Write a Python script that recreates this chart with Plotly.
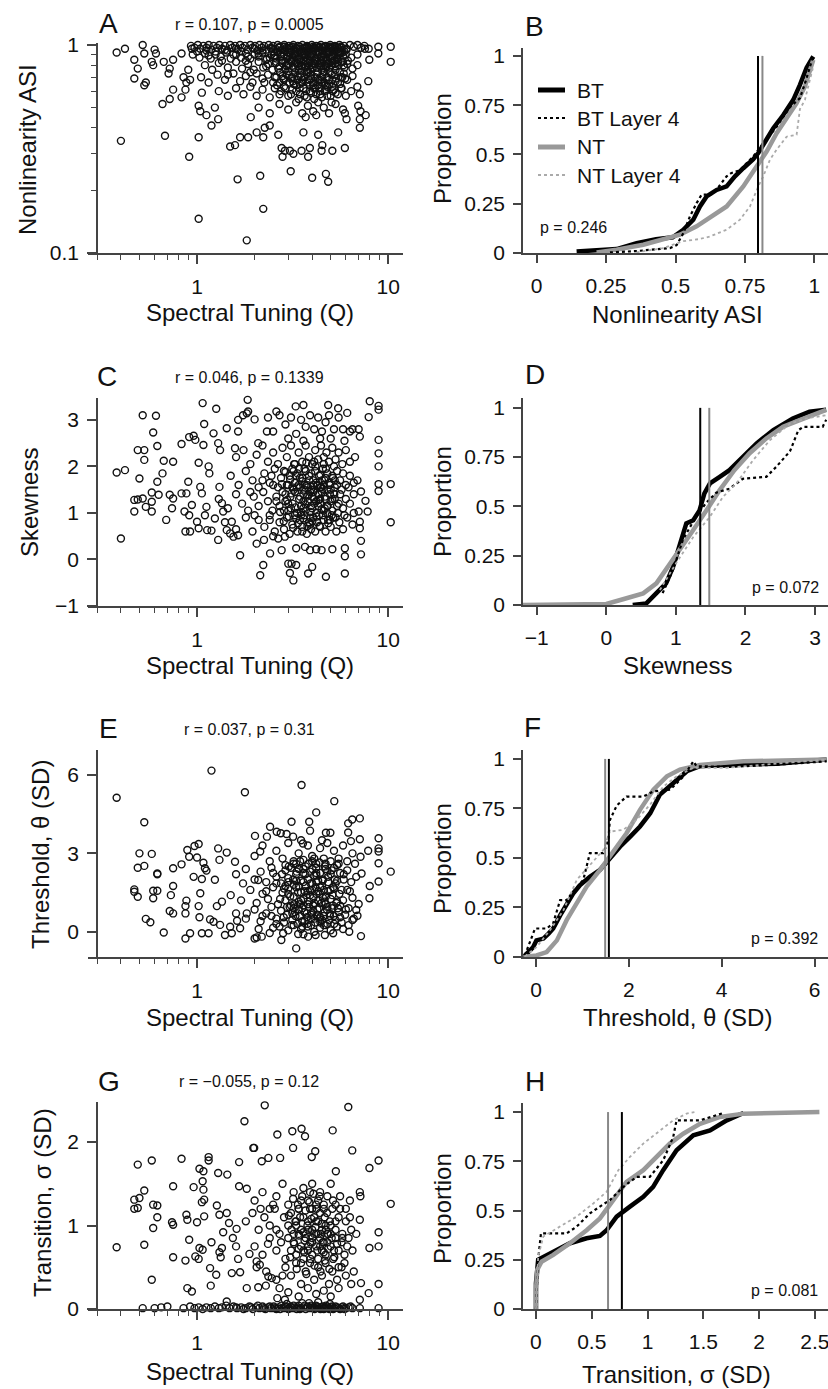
import plotly.graph_objects as go

W, H = 828, 1389
def px(x): return x / W
def py(y): return 1 - y / H

FONT = "Liberation Sans, Arial, Helvetica, sans-serif"
AXC = '#444'
TXT = '#111'

# ---------------- Scatter data (Q, value) ----------------
A_SPARSE = [(0.38,0.92),(0.42,0.96),(0.40,0.346),(0.47,0.85),(0.47,0.69),(0.49,0.77),(0.52,1.0),(0.53,0.91),(0.53,0.64),(0.54,0.66),(0.60,0.95),(0.61,0.91),(0.58,0.83),(0.59,0.80),(0.67,0.83),(0.75,0.85),(0.72,0.77),(0.71,0.73),(0.75,0.61),(0.72,0.55),(0.66,0.52),(0.68,0.366),(0.83,0.56),(0.87,0.61),(0.83,0.91),(0.85,0.70),(0.88,0.66),(0.91,0.29),(0.90,0.76),(0.92,0.68),(0.94,0.96),(1.02,0.51),(1.04,0.48),(1.02,0.36),(1.02,0.146),(1.06,0.59),(1.12,0.46),(1.19,0.41),(1.24,0.50),(1.29,0.44),(1.49,0.325),(1.58,0.33),(1.63,0.226),(1.68,0.36),(1.82,0.115),(1.85,0.36),(1.91,0.45),(2.05,0.38),(2.14,0.235),(2.22,0.36),(2.22,0.163),(2.26,0.40),(2.40,0.41),(2.66,0.37),(2.77,0.32),(2.80,0.29),(2.88,0.31),(3.06,0.31),(3.09,0.247),(3.19,0.30),(3.52,0.31),(3.60,0.38),(3.81,0.29),(3.89,0.32),(4.00,0.23),(4.30,0.37),(4.48,0.31),(4.52,0.33),(4.72,0.24),(4.85,0.22),(5.10,0.31),(5.47,0.38),(5.93,0.32),(5.93,0.47),(6.05,0.44),(6.96,0.51),(7.10,0.40),(7.10,0.44),(7.16,0.48),(7.62,0.46),(7.10,0.58),(6.89,0.63),(7.86,0.67),(7.96,0.85),(8.87,0.98),(8.87,0.91),(10.3,0.98),(10.3,0.83),(7.55,0.96)]
A_DENSE = [(0.93,0.99),(0.97,0.97),(1.01,1.0),(1.04,0.96),(1.08,0.99),(1.12,0.97),(1.15,1.0),(1.19,0.95),(1.22,0.99),(1.27,0.97),(1.31,1.0),(1.35,0.96),(1.4,0.99),(1.44,0.94),(1.49,1.0),(1.53,0.97),(1.58,0.99),(1.63,0.95),(1.68,1.0),(1.73,0.97),(1.78,0.99),(1.84,0.95),(1.9,1.0),(1.95,0.97),(2.01,0.99),(2.07,0.94),(2.12,1.0),(2.18,0.97),(2.24,0.99),(2.3,0.95),(2.37,1.0),(2.43,0.97),(2.5,0.99),(2.57,0.96),(2.64,1.0),(2.71,0.98),(2.78,0.95),(2.86,1.0),(2.94,0.97),(3.02,0.99),(3.1,0.95),(3.19,1.0),(3.28,0.97),(3.37,0.99),(3.46,0.95),(3.56,1.0),(3.66,0.97),(3.76,0.99),(3.87,0.95),(3.98,1.0),(4.09,0.97),(4.2,0.99),(4.32,0.95),(4.44,1.0),(4.57,0.97),(4.7,0.99),(4.83,0.95),(4.97,1.0),(5.11,0.97),(5.25,0.99),(5.4,0.95),(5.55,1.0),(5.71,0.97),(5.87,0.99),(6.04,0.96),(6.3,1.0),(6.6,0.98),(6.9,1.0),(7.2,0.97),(7.5,0.99),(7.9,0.96),
(0.95,0.9),(1.03,0.87),(1.1,0.91),(1.18,0.86),(1.25,0.9),(1.33,0.88),(1.42,0.92),(1.5,0.86),(1.6,0.9),(1.7,0.87),(1.8,0.91),(1.9,0.86),(2.0,0.9),(2.1,0.88),(2.2,0.92),(2.32,0.86),(2.45,0.9),(2.55,0.87),(2.65,0.92),(2.75,0.88),(2.85,0.9),(2.95,0.86),(3.05,0.92),(3.15,0.88),(3.25,0.9),(3.35,0.86),(3.45,0.92),(3.55,0.88),(3.65,0.9),(3.75,0.86),(3.85,0.92),(3.95,0.88),(4.05,0.9),(4.15,0.86),(4.3,0.92),(4.45,0.88),(4.6,0.9),(4.75,0.86),(4.9,0.92),(5.05,0.88),(5.2,0.9),(5.4,0.86),(5.6,0.91),(5.8,0.88),(6.0,0.9),(6.4,0.87),(6.9,0.9),
(1.1,0.8),(1.2,0.76),(1.3,0.82),(1.45,0.78),(1.6,0.83),(1.72,0.77),(1.85,0.81),(1.98,0.76),(2.1,0.83),(2.22,0.78),(2.35,0.81),(2.48,0.76),(2.6,0.83),(2.7,0.79),(2.8,0.82),(2.9,0.76),(3.0,0.8),(3.1,0.84),(3.2,0.78),(3.3,0.82),(3.4,0.76),(3.5,0.8),(3.6,0.84),(3.7,0.78),(3.8,0.82),(3.9,0.76),(4.0,0.8),(4.12,0.84),(4.25,0.78),(4.38,0.82),(4.5,0.76),(4.65,0.8),(4.8,0.84),(4.95,0.78),(5.1,0.82),(5.3,0.76),(5.5,0.8),(5.7,0.83),(5.9,0.78),(6.1,0.81),(6.5,0.77),(6.9,0.8),
(1.05,0.7),(1.15,0.66),(1.28,0.72),(1.4,0.68),(1.55,0.73),(1.68,0.67),(1.8,0.71),(1.95,0.66),(2.05,0.73),(2.2,0.69),(2.35,0.72),(2.5,0.66),(2.6,0.7),(2.72,0.74),(2.85,0.68),(2.95,0.72),(3.05,0.66),(3.15,0.7),(3.25,0.74),(3.35,0.68),(3.45,0.72),(3.55,0.66),(3.65,0.7),(3.75,0.74),(3.85,0.68),(3.95,0.72),(4.05,0.66),(4.15,0.7),(4.28,0.74),(4.4,0.68),(4.52,0.72),(4.65,0.66),(4.8,0.7),(4.95,0.74),(5.1,0.68),(5.25,0.72),(5.45,0.66),(5.65,0.7),(5.85,0.73),(6.1,0.68),(6.5,0.71),
(1.3,0.6),(1.45,0.57),(1.6,0.62),(1.75,0.58),(1.9,0.63),(2.05,0.57),(2.2,0.61),(2.4,0.56),(2.55,0.62),(2.7,0.58),(2.85,0.63),(3.0,0.57),(3.15,0.61),(3.3,0.64),(3.45,0.58),(3.6,0.62),(3.75,0.56),(3.9,0.6),(4.05,0.64),(4.2,0.58),(4.35,0.62),(4.5,0.56),(4.65,0.6),(4.8,0.63),(5.0,0.57),(5.2,0.61),(5.45,0.58),(5.7,0.62),(6.0,0.57),(6.4,0.6),
(2.1,0.5),(2.4,0.47),(2.7,0.52),(3.0,0.49),(3.3,0.53),(3.55,0.47),(3.8,0.51),(4.05,0.48),(4.3,0.53),(4.6,0.5),(4.9,0.47),(5.3,0.52),(5.8,0.49),(3.7,0.45),(4.2,0.46),
(2.62,0.93),(2.9,0.83),(3.13,0.93),(3.38,0.79),(3.62,0.93),(3.82,0.74),(4.02,0.93),(4.25,0.83),(4.5,0.94),(4.72,0.79),(4.95,0.93),(5.2,0.84),(5.5,0.93),(2.8,0.71),(3.2,0.65),(3.5,0.7),(3.9,0.64),(4.3,0.68),(4.7,0.64),(5.1,0.63),(5.6,0.65),(2.75,0.6),(3.4,0.55),(4.1,0.55),(4.4,0.58),(5.05,0.53),(2.4,0.87),(3.0,0.75),(3.7,0.83),(4.55,0.85),(5.3,0.79),(5.8,0.83)]
A_CORE = [(2.45,0.96),(2.53,0.89),(2.58,0.82),(2.66,0.77),(2.68,0.97),(2.74,0.9),(2.77,0.84),(2.82,0.69),(2.88,0.95),(2.92,0.8),(2.98,0.88),(3.03,0.72),(3.07,0.97),(3.12,0.83),(3.17,0.67),(3.22,0.91),(3.27,0.77),(3.32,0.96),(3.36,0.71),(3.41,0.85),(3.44,0.62),(3.49,0.93),(3.53,0.79),(3.58,0.68),(3.63,0.96),(3.68,0.87),(3.72,0.6),(3.78,0.76),(3.83,0.97),(3.88,0.84),(3.93,0.69),(3.97,0.91),(4.02,0.78),(4.08,0.62),(4.13,0.96),(4.18,0.86),(4.23,0.72),(4.28,0.64),(4.34,0.93),(4.4,0.8),(4.46,0.66),(4.52,0.97),(4.58,0.87),(4.63,0.74),(4.69,0.61),(4.75,0.93),(4.81,0.81),(4.88,0.68),(4.94,0.96),(5.0,0.86),(5.06,0.72),(5.13,0.6),(5.2,0.94),(5.27,0.81),(5.34,0.69),(5.42,0.97),(5.5,0.87),(5.58,0.74),(5.66,0.62),(5.75,0.92),(5.84,0.8),(5.95,0.69),(6.05,0.95),(6.15,0.84),(2.55,0.7),(2.62,0.64),(2.9,0.62),(3.1,0.58),(3.3,0.6),(3.65,0.57),(3.95,0.59),(4.4,0.6),(4.8,0.57),(5.3,0.59),(2.2,0.94),(2.3,0.85),(2.0,0.96),(1.85,0.88),(1.7,0.93),(1.55,0.9),(1.4,0.95),(1.25,0.93),(1.12,0.94),(1.0,0.93),
(2.85,0.98),(3.15,0.98),(3.45,0.98),(3.75,0.98),(4.05,0.98),(4.35,0.98),(4.65,0.98),(4.95,0.98),(5.3,0.98),(5.65,0.98),(3.0,0.92),(3.3,0.89),(3.6,0.91),(3.9,0.89),(4.2,0.92),(4.5,0.89),(4.8,0.91),(5.1,0.89),(5.45,0.91),(3.05,0.85),(3.35,0.81),(3.7,0.8),(4.1,0.82),(4.45,0.79),(4.85,0.82),(5.25,0.85)]
A_EXTRA = [(2.5,0.93),(2.75,0.92),(3.0,0.96),(3.25,0.94),(3.5,0.96),(3.75,0.93),(4.0,0.95),(4.25,0.97),(4.55,0.92),(4.85,0.97),(5.15,0.93),(5.5,0.96),(5.9,0.93),(2.6,0.86),(2.95,0.79),(3.2,0.86),(3.5,0.83),(3.85,0.79),(4.15,0.81),(4.45,0.84),(4.75,0.78),(5.05,0.8),(5.45,0.83),(2.7,0.66),(3.1,0.69),(3.45,0.65),(3.8,0.66),(4.15,0.62),(4.5,0.7),(4.9,0.65),(5.3,0.67),(5.75,0.7),(1.15,0.89),(1.35,0.84),(1.6,0.96),(1.8,0.84),(2.1,0.91),(2.3,0.79),(1.45,0.72),(1.9,0.74),(2.25,0.66)]

C_SPARSE = [(0.38,1.87),(0.42,1.92),(0.40,0.45),(0.47,1.03),(0.47,1.28),(0.49,1.29),(0.49,2.35),(0.52,3.1),(0.53,2.35),(0.53,2.14),(0.50,1.74),(0.52,1.31),(0.54,1.13),(0.58,1.24),(0.58,1.44),(0.58,1.03),(0.59,2.73),(0.61,3.09),(0.62,1.67),(0.62,2.44),(0.63,1.39),(0.66,1.85),(0.67,2.12),(0.69,0.85),(0.72,1.39),(0.74,1.10),(0.75,2.1),(0.75,1.31),(0.83,2.48),(0.83,1.42),(0.86,1.03),(0.87,0.6),(0.88,1.42),(0.90,1.67),(0.91,2.63),(0.91,0.95),(0.92,0.60),(0.94,1.17),(0.96,2.66),(0.98,2.57),(1.0,0.81),(1.02,2.08),(1.02,0.67),(1.04,1.56),(1.06,1.42),(1.07,3.36),(1.08,2.46),(1.09,2.91),(1.10,0.95),(1.12,1.13),(1.13,0.63),(1.15,2.0),(1.16,1.85),(1.19,0.62),(1.22,2.71),(1.24,0.88),(1.26,3.24),(1.29,0.42),(1.29,2.5),(1.31,1.56),(1.32,2.35),(1.35,1.21),(1.37,1.03),(1.43,2.82),(1.43,0.63),(1.49,0.56),(1.52,0.81),(1.55,0.49),(1.58,2.39),(1.64,2.75),(1.64,0.52),(1.68,0.09),(1.64,3.0),(1.74,3.1),(1.82,3.14),(1.84,3.43),(1.85,3.18),(2.0,3.01),(2.05,0.34),(2.09,2.5),(2.14,-0.34),(2.22,-0.12),(2.24,0.42),(2.32,2.75),(2.41,0.13),(2.5,0.5),(2.6,3.18),(2.66,0.45),(2.77,0.2),(2.88,0.49),(3.0,-0.09),(3.06,-0.29),(3.12,-0.09),(3.19,-0.45),(3.28,3.29),(3.30,-0.12),(3.30,0.24),(3.6,3.32),(3.67,0.27),(3.81,-0.3),(3.9,0.2),(4.0,-0.16),(4.2,0.22),(4.48,0.2),(4.72,-0.37),(4.85,3.32),(5.1,0.22),(5.93,-0.3),(5.93,0.24),(5.93,0.07),(5.47,3.25),(7.1,2.64),(7.0,2.8),(7.2,0.11),(7.2,0.4),(7.1,0.67),(7.8,1.03),(7.6,1.26),(7.9,3.06),(8.0,3.4),(8.9,3.3),(8.9,3.22),(8.9,2.57),(8.9,2.28),(8.9,2.0),(8.9,1.62),(8.9,1.47),(10.3,1.62),(10.3,0.8),(7.0,1.03),(7.1,0.81),(7.2,1.46)]
C_DENSE = [(2.5,2.75),(2.7,3.1),(2.9,2.9),(3.1,3.05),(3.3,2.7),(3.5,3.0),(3.7,2.85),(3.9,3.1),(4.1,2.8),(4.3,3.05),(4.5,2.75),(4.7,2.95),(4.9,3.1),(5.2,2.8),(5.5,3.05),(5.8,2.8),(6.1,3.15),(6.5,2.8),(2.35,3.05),(3.0,2.6),(3.6,2.55),(4.4,2.6),(5.0,2.6),(5.9,2.55),(6.3,2.75),
(1.6,2.2),(1.75,2.35),(1.9,2.05),(2.05,2.25),(2.2,2.45),(2.35,2.1),(2.5,2.3),(2.65,2.05),(2.8,2.4),(2.95,2.2),(3.1,2.45),(3.25,2.05),(3.4,2.3),(3.55,2.1),(3.7,2.45),(3.85,2.2),(4.0,2.05),(4.15,2.35),(4.3,2.15),(4.45,2.45),(4.6,2.05),(4.75,2.3),(4.9,2.1),(5.1,2.4),(5.3,2.15),(5.5,2.3),(5.75,2.05),(6.0,2.35),(6.3,2.1),(6.7,2.2),
(1.5,1.8),(1.65,1.6),(1.8,1.9),(1.95,1.7),(2.1,1.55),(2.25,1.85),(2.4,1.65),(2.55,1.95),(2.65,1.55),(2.75,1.75),(2.85,1.9),(2.95,1.6),(3.05,1.8),(3.15,1.95),(3.25,1.65),(3.35,1.85),(3.45,1.55),(3.55,1.75),(3.65,1.95),(3.75,1.6),(3.85,1.8),(3.95,1.5),(4.05,1.7),(4.15,1.9),(4.25,1.6),(4.35,1.8),(4.45,1.55),(4.55,1.95),(4.65,1.7),(4.8,1.85),(4.95,1.6),(5.1,1.8),(5.25,1.55),(5.4,1.9),(5.6,1.7),(5.8,1.85),(6.0,1.6),(6.3,1.8),(6.6,1.65),
(1.3,1.3),(1.45,1.1),(1.6,1.4),(1.72,1.2),(1.85,1.05),(1.98,1.35),(2.1,1.15),(2.22,1.45),(2.35,1.25),(2.48,1.05),(2.6,1.35),(2.7,1.15),(2.8,1.45),(2.9,1.25),(3.0,1.05),(3.08,1.35),(3.16,1.2),(3.25,1.45),(3.33,1.0),(3.42,1.3),(3.5,1.15),(3.6,1.4),(3.7,1.05),(3.8,1.25),(3.9,1.45),(4.0,1.1),(4.1,1.3),(4.2,1.0),(4.3,1.4),(4.4,1.2),(4.5,1.45),(4.6,1.05),(4.7,1.3),(4.82,1.15),(4.95,1.4),(5.1,1.05),(5.25,1.3),(5.4,1.15),(5.6,1.4),(5.8,1.1),(6.0,1.3),(6.3,1.2),(6.6,1.4),
(1.4,0.8),(1.6,0.65),(1.8,0.9),(1.95,0.6),(2.1,0.85),(2.25,0.7),(2.4,0.95),(2.55,0.6),(2.7,0.8),(2.85,0.65),(2.95,0.9),(3.05,0.55),(3.15,0.75),(3.25,0.95),(3.35,0.6),(3.45,0.85),(3.55,0.7),(3.65,0.95),(3.75,0.55),(3.85,0.8),(3.95,0.65),(4.05,0.9),(4.15,0.6),(4.25,0.8),(4.4,0.7),(4.55,0.95),(4.7,0.6),(4.85,0.85),(5.0,0.7),(5.15,0.9),(5.35,0.6),(5.55,0.8),(5.8,0.65),(6.1,0.9),(6.5,0.75),
(3.0,1.6),(3.2,1.5),(3.4,1.6),(3.6,1.25),(3.8,1.55),(4.0,1.35),(4.2,1.65),(4.4,1.3),(4.6,1.6),(4.8,1.0),(3.1,1.1),(3.5,0.95),(3.9,0.9),(4.3,1.15),(4.7,1.75),(5.0,1.5),(2.9,1.4),(3.3,1.8),(3.7,1.9),(4.1,1.5)]
C_CORE = [(2.72,1.02),(2.78,1.62),(2.84,0.82),(2.9,1.88),(2.96,1.28),(3.02,0.92),(3.07,1.72),(3.12,1.42),(3.18,0.68),(3.22,2.05),(3.27,1.12),(3.32,1.55),(3.37,0.78),(3.41,1.95),(3.46,1.35),(3.5,1.02),(3.55,1.68),(3.6,0.88),(3.64,1.5),(3.69,1.18),(3.73,2.08),(3.78,0.72),(3.82,1.38),(3.87,1.7),(3.92,1.02),(3.96,1.85),(4.01,0.82),(4.06,1.45),(4.11,1.2),(4.16,2.0),(4.21,0.92),(4.26,1.58),(4.31,1.28),(4.37,0.72),(4.42,1.82),(4.48,1.08),(4.54,1.52),(4.6,0.85),(4.66,1.35),(4.72,1.95),(4.78,1.15),(4.85,0.78),(4.92,1.65),(4.99,1.25),(5.06,0.95),(5.14,1.75),(5.22,1.4),(5.3,0.9),(5.4,1.6),(5.5,1.2),(2.5,1.6),(2.4,0.85),(2.2,1.7),(2.0,0.95),(1.9,1.45),(5.7,1.5),(5.9,0.95),(6.2,1.55),(6.6,1.0),(6.9,1.7)]
C_EXTRA = [(3.0,1.2),(3.15,1.55),(3.3,0.88),(3.45,1.75),(3.6,1.1),(3.75,1.35),(3.9,0.75),(4.05,1.6),(4.2,1.25),(4.35,0.95),(4.5,1.7),(4.65,1.1),(4.8,1.5),(4.95,0.85),(5.1,1.3),(5.25,1.7),(5.45,1.0),(2.85,1.05),(3.2,1.9),(3.55,0.6),(4.1,2.1),(4.6,2.2),(5.2,2.0),(2.6,1.25),(2.45,1.8),(3.95,1.15),(4.4,1.55),(3.65,1.6)]

E_SPARSE = [(0.38,5.13),(0.53,4.19),(0.50,3.0),(0.49,2.45),(0.53,2.52),(0.47,1.62),(0.47,1.53),(0.49,1.34),(0.58,2.98),(0.62,2.23),(0.62,2.2),(0.59,1.28),(0.59,1.57),(0.62,1.57),(0.54,0.49),(0.57,0.36),(0.67,-0.03),(0.72,0.79),(0.75,0.7),(0.73,1.4),(0.75,1.75),(0.75,2.43),(0.83,2.58),(0.87,0.98),(0.88,1.19),(0.87,0.7),(0.87,-0.26),(0.92,-0.06),(0.89,3.13),(0.91,2.87),(0.96,2.1),(0.97,3.28),(1.02,3.36),(1.0,2.84),(1.02,0.98),(1.03,0.55),(1.04,1.47),(1.06,-0.06),(1.06,2.02),(1.08,2.64),(1.1,2.43),(1.12,2.34),(1.15,-0.06),(1.17,0.47),(1.19,6.17),(1.22,0.38),(1.24,1.99),(1.27,0.98),(1.29,3.19),(1.31,2.75),(1.32,0.26),(1.35,1.15),(1.4,-0.13),(1.43,3.03),(1.49,0.19),(1.52,-0.06),(1.58,2.68),(1.62,0.42),(1.68,0.13),(1.74,1.85),(1.78,5.34),(1.82,0.7),(2.0,-0.26),(2.01,3.67),(2.05,-0.22),(2.09,1.98),(2.14,3.07),(2.18,-0.19),(2.32,3.64),(2.41,4.02),(2.61,3.83),(2.74,3.77),(2.76,-0.32),(2.82,-0.06),(2.94,3.74),(3.12,4.21),(3.18,3.64),(3.30,-0.64),(3.38,-0.09),(3.52,5.62),(3.58,3.38),(3.81,-0.19),(3.86,4.21),(3.9,3.87),(4.2,4.57),(4.17,-0.13),(4.66,-0.13),(4.72,3.79),(4.98,3.79),(5.22,5.0),(5.15,-0.06),(6.17,4.15),(6.48,4.3),(7.1,4.34),(6.17,3.8),(6.38,3.47),(7.2,-0.17),(7.1,3.54),(7.16,2.87),(7.25,2.23),(7.85,3.1),(8.0,1.75),(7.97,1.28),(8.9,3.58),(8.9,3.19),(8.9,3.07),(8.9,2.62),(8.9,1.92),(10.3,2.3),(6.8,0.83),(7.0,1.06),(6.9,0.61),(6.5,0.45),(6.25,0.0)]
E_DENSE = [(2.0,2.9),(2.2,3.3),(2.4,2.7),(2.6,3.1),(2.8,2.8),(3.0,3.4),(3.2,2.6),(3.4,3.0),(3.6,2.75),(3.8,3.3),(4.0,2.9),(4.2,2.6),(4.4,3.2),(4.6,2.8),(4.8,3.4),(5.0,2.7),(5.2,3.1),(5.5,2.8),(5.8,3.3),(6.1,2.7),(6.5,3.0),(2.9,2.55),(3.5,3.5),(4.5,3.5),(5.4,2.55),
(1.6,2.2),(1.8,2.4),(2.0,2.0),(2.15,2.3),(2.3,1.9),(2.45,2.45),(2.6,2.1),(2.75,1.85),(2.9,2.35),(3.0,2.05),(3.1,2.45),(3.2,1.8),(3.3,2.2),(3.4,2.4),(3.5,1.95),(3.6,2.25),(3.7,2.5),(3.8,2.0),(3.9,2.3),(4.0,1.85),(4.1,2.15),(4.2,2.45),(4.3,1.95),(4.4,2.25),(4.55,2.0),(4.7,2.4),(4.85,1.9),(5.0,2.2),(5.2,2.45),(5.4,1.95),(5.6,2.25),(5.85,2.0),(6.1,2.35),(6.4,1.9),(6.8,2.1),
(1.5,1.4),(1.7,1.2),(1.9,1.6),(2.05,1.1),(2.2,1.45),(2.35,1.25),(2.5,1.7),(2.65,1.05),(2.8,1.5),(2.9,1.2),(3.0,1.65),(3.1,1.0),(3.2,1.35),(3.3,1.7),(3.4,1.15),(3.5,1.5),(3.6,1.25),(3.7,1.75),(3.8,1.05),(3.9,1.4),(4.0,1.6),(4.1,1.1),(4.2,1.45),(4.3,1.2),(4.4,1.7),(4.55,1.3),(4.7,1.05),(4.85,1.55),(5.0,1.25),(5.15,1.7),(5.35,1.1),(5.55,1.45),(5.8,1.2),(6.1,1.6),(6.5,1.3),
(1.6,0.7),(1.8,0.5),(2.0,0.85),(2.15,0.4),(2.3,0.7),(2.45,0.95),(2.6,0.5),(2.75,0.8),(2.85,0.35),(2.95,0.65),(3.05,0.95),(3.15,0.45),(3.25,0.75),(3.35,0.3),(3.45,0.6),(3.55,0.9),(3.65,0.4),(3.75,0.7),(3.85,0.95),(3.95,0.5),(4.05,0.8),(4.15,0.35),(4.25,0.65),(4.35,0.9),(4.5,0.45),(4.65,0.75),(4.8,0.3),(4.95,0.6),(5.1,0.9),(5.3,0.45),(5.5,0.75),(5.7,0.35),(5.95,0.65),(6.2,0.9),(6.6,0.5),
(2.1,0.1),(2.4,-0.05),(2.7,0.2),(3.0,0.05),(3.2,0.25),(3.5,0.1),(3.8,0.2),(4.1,0.0),(4.4,0.15),(4.7,0.25),(5.0,0.05),(5.4,0.2),(5.8,0.1),(6.2,0.25),(2.5,0.15),(3.6,-0.1),
(3.0,1.9),(3.4,1.75),(3.8,1.55),(4.2,1.9),(4.6,1.6),(3.2,0.9),(3.6,1.0),(4.0,0.7),(4.4,0.55),(4.8,0.95),(3.3,2.6),(4.0,2.7),(4.7,2.6),(5.2,0.6),(5.6,1.0)]
E_CORE = [(2.72,1.25),(2.78,2.2),(2.84,0.55),(2.9,1.75),(2.96,0.95),(3.02,2.5),(3.07,1.35),(3.12,0.25),(3.18,2.0),(3.22,1.05),(3.27,0.6),(3.32,2.3),(3.37,1.5),(3.41,0.85),(3.46,2.7),(3.5,1.2),(3.55,0.4),(3.6,1.9),(3.64,0.75),(3.69,2.2),(3.73,1.4),(3.78,0.3),(3.82,2.6),(3.87,1.15),(3.92,1.85),(3.96,0.65),(4.01,2.4),(4.06,1.3),(4.11,0.5),(4.16,1.7),(4.21,2.15),(4.26,0.85),(4.31,1.55),(4.37,2.65),(4.42,0.35),(4.48,1.1),(4.54,1.95),(4.6,0.6),(4.66,2.5),(4.72,1.35),(4.78,0.85),(4.85,2.1),(4.92,0.45),(4.99,1.6),(5.06,2.35),(5.14,1.0),(5.22,0.3),(5.3,1.85),(5.4,1.15),(5.5,2.6),(5.6,0.55),(5.7,1.6),(5.85,2.2),(6.0,0.85),(2.5,2.25),(2.3,1.55),(2.2,0.6),(2.6,0.3),(6.3,1.55),(6.7,2.6)]
E_EXTRA = [(3.0,1.45),(3.15,0.7),(3.3,1.95),(3.45,1.05),(3.6,2.4),(3.75,0.55),(3.9,1.6),(4.05,1.0),(4.2,2.25),(4.35,0.5),(4.5,1.75),(4.65,1.15),(4.8,2.3),(4.95,0.7),(5.1,1.4),(5.25,2.0),(5.45,0.9),(2.85,1.65),(3.2,2.7),(3.55,0.2),(4.1,2.8),(4.6,0.25),(5.2,1.65),(2.6,1.85),(2.45,0.6),(3.95,0.25),(4.4,1.45),(3.65,1.55)]

G_SPARSE = [(0.38,0.74),(0.49,1.73),(0.47,1.31),(0.47,1.2),(0.50,1.33),(0.49,1.21),(0.53,1.42),(0.53,0.77),(0.58,1.78),(0.58,0.35),(0.59,1.25),(0.62,1.24),(0.59,0.97),(0.62,1.1),(0.74,1.04),(0.75,1.01),(0.75,1.47),(0.75,0.62),(0.83,1.8),(0.88,1.13),(0.89,1.07),(0.87,0.58),(0.89,0.25),(0.94,0.21),(0.91,0.83),(0.96,1.46),(0.98,0.63),(1.0,1.04),(1.02,0.6),(1.03,0.73),(1.03,1.68),(1.06,1.28),(1.07,1.53),(1.08,1.43),(1.09,1.11),(1.08,1.65),(1.09,1.31),(1.15,1.82),(1.15,1.78),(1.07,0.71),(1.17,0.49),(1.18,0.28),(1.19,0.8),(1.26,0.41),(1.29,1.63),(1.27,1.24),(1.31,1.13),(1.31,0.68),(1.33,0.62),(1.35,0.73),(1.37,0.92),(1.44,1.61),(1.43,1.15),(1.47,1.03),(1.52,0.43),(1.54,0.85),(1.61,0.96),(1.6,0.75),(1.64,0.6),(1.66,1.76),(1.66,1.47),(1.68,0.44),(1.77,2.25),(1.82,1.44),(1.82,0.25),(1.88,0.66),(1.97,1.93),(1.99,1.93),(2.05,0.57),(2.09,0.26),(2.13,0.53),(2.18,1.77),(2.26,2.44),(2.29,0.28),(2.36,0.39),(2.36,1.81),(2.46,0.37),(2.63,2.09),(2.63,0.13),(2.72,1.81),(2.88,0.11),(3.15,2.13),(3.18,1.93),(3.52,2.16),(3.67,2.07),(3.98,1.82),(4.15,1.89),(5.12,2.14),(5.32,1.65),(6.18,2.42),(6.48,1.9),(7.1,1.4),(7.1,1.07),(7.15,1.35),(7.97,1.69),(8.9,1.78),(8.9,0.92),(8.9,0.75),(8.9,0.3),(10.3,1.26),(7.9,0.19),(7.2,0.31),(7.1,0.11),(7.97,0.73)]
G_DENSE = [(0.52,0.01),(0.6,0.01),(0.65,0.02),(0.7,0.03),(0.85,0.01),(0.92,0.03),(0.97,0.01),(1.02,0.02),(1.07,0.0),(1.12,0.02),(1.18,0.01),(1.24,0.03),(1.3,0.01),(1.35,0.02),(1.42,0.04),(1.48,0.01),(1.55,0.03),(1.62,0.01),(1.7,0.02),(1.8,0.01),(1.88,0.03),(1.96,0.0),(2.04,0.02),(2.12,0.01),(2.2,0.03),(2.28,0.0),(2.36,0.02),(2.44,0.01),(2.52,0.03),(2.6,0.0),(2.68,0.02),(2.76,0.04),(2.84,0.01),(2.92,0.02),(3.0,0.0),(3.08,0.03),(3.16,0.01),(3.24,0.02),(3.32,0.0),(3.4,0.04),(3.5,0.01),(3.6,0.02),(3.7,0.0),(3.8,0.03),(3.9,0.01),(4.0,0.02),(4.12,0.0),(4.24,0.03),(4.36,0.01),(4.48,0.02),(4.6,0.0),(4.72,0.04),(4.85,0.01),(5.0,0.02),(5.15,0.0),(5.3,0.03),(5.5,0.01),(5.7,0.02),(5.9,0.0),(6.2,0.02),(6.5,0.01),(7.1,0.01),(8.9,0.01),(1.43,0.09),(3.55,0.07),(4.3,0.08),
(2.0,1.3),(2.2,1.4),(2.4,1.2),(2.6,1.35),(2.8,1.5),(3.0,1.25),(3.2,1.4),(3.4,1.2),(3.6,1.45),(3.8,1.3),(4.0,1.5),(4.2,1.25),(4.4,1.4),(4.6,1.2),(4.8,1.35),(5.0,1.5),(5.3,1.25),(5.6,1.35),(6.0,1.2),(6.3,1.3),
(1.8,1.05),(1.95,1.15),(2.1,0.95),(2.25,1.1),(2.4,1.0),(2.55,1.2),(2.7,0.9),(2.85,1.1),(3.0,1.0),(3.1,1.15),(3.2,0.9),(3.3,1.05),(3.4,1.2),(3.5,0.95),(3.6,1.1),(3.7,0.9),(3.8,1.05),(3.9,1.2),(4.0,0.95),(4.1,1.1),(4.2,0.9),(4.3,1.05),(4.4,1.15),(4.5,0.95),(4.65,1.1),(4.8,0.9),(4.95,1.05),(5.1,1.2),(5.3,0.95),(5.5,1.1),(5.75,0.9),(6.0,1.05),(6.4,0.95),
(2.0,0.75),(2.2,0.65),(2.4,0.85),(2.6,0.7),(2.75,0.8),(2.9,0.6),(3.0,0.85),(3.1,0.7),(3.2,0.8),(3.3,0.65),(3.4,0.9),(3.5,0.75),(3.6,0.6),(3.7,0.85),(3.8,0.7),(3.9,0.8),(4.0,0.65),(4.1,0.9),(4.2,0.75),(4.3,0.6),(4.4,0.85),(4.5,0.7),(4.6,0.8),(4.7,0.65),(4.85,0.9),(5.0,0.75),(5.15,0.6),(5.3,0.85),(5.5,0.7),(5.7,0.8),(5.9,0.65),(6.2,0.85),(6.5,0.7),
(2.3,0.45),(2.6,0.35),(2.9,0.5),(3.1,0.4),(3.3,0.55),(3.5,0.3),(3.7,0.45),(3.9,0.55),(4.1,0.35),(4.3,0.5),(4.5,0.4),(4.7,0.55),(4.9,0.3),(5.1,0.45),(5.4,0.35),(5.7,0.5),(6.0,0.4),(6.4,0.3),
(3.0,0.2),(3.4,0.15),(3.8,0.25),(4.2,0.18),(4.6,0.22),(5.0,0.15),(5.5,0.25),(2.7,0.25),
(3.5,1.3),(3.9,1.4),(4.3,1.3),(4.7,1.0),(4.0,0.8),(3.6,0.7),(4.4,0.75),(4.8,0.8),(3.3,1.0),(5.2,0.7)]
G_CORE = [(3.02,1.12),(3.07,0.62),(3.12,0.95),(3.18,1.32),(3.22,0.78),(3.27,1.05),(3.32,0.48),(3.37,1.25),(3.41,0.88),(3.46,1.1),(3.5,0.55),(3.55,1.35),(3.6,0.92),(3.64,0.68),(3.69,1.18),(3.73,0.42),(3.78,1.0),(3.82,0.75),(3.87,1.28),(3.92,0.6),(3.96,1.08),(4.01,0.85),(4.06,1.38),(4.11,0.52),(4.16,0.98),(4.21,1.2),(4.26,0.7),(4.31,0.9),(4.37,1.35),(4.42,0.45),(4.48,1.02),(4.54,0.8),(4.6,1.25),(4.66,0.58),(4.72,0.95),(4.78,1.15),(4.85,0.72),(4.92,0.48),(4.99,1.0),(5.06,0.85),(5.14,1.3),(5.22,0.62),(5.3,1.05),(5.4,0.78),(5.5,0.5),(5.6,1.2),(5.75,0.85),(5.9,0.55),(6.1,0.75),(6.3,1.1),(2.8,0.4),(2.6,0.95),(2.5,1.25),(2.35,0.78),(2.15,1.2),(2.05,0.5),(6.6,0.45),(6.8,0.9)]
G_EXTRA = [(1.6,0.02),(1.75,0.0),(1.92,0.02),(2.08,0.04),(2.24,0.01),(2.4,0.03),(2.56,0.01),(2.72,0.0),(2.88,0.03),(3.04,0.01),(3.2,0.04),(3.36,0.02),(3.45,0.0),(3.65,0.04),(3.75,0.02),(3.95,0.04),(4.06,0.01),(4.18,0.04),(4.3,0.02),(4.42,0.0),(4.54,0.03),(4.66,0.01),(4.8,0.03),(4.92,0.0),(5.08,0.03),(5.22,0.01),(5.4,0.02),(5.6,0.0),(5.8,0.03),(6.0,0.01),(6.35,0.03),(2.95,0.06),(3.85,0.07),(4.95,0.06),(3.4,0.72),(3.8,0.95),(4.2,1.05),(4.6,0.68),(5.0,0.9),(4.0,1.2),(4.45,0.9),(3.65,0.82)]

# ---------------- Cumulative distributions (value, proportion) ----------------
B_BT = [(0.144,0.008),(0.216,0.013),(0.288,0.02),(0.36,0.05),(0.43,0.07),(0.49,0.08),(0.528,0.118),(0.564,0.169),(0.588,0.236),(0.612,0.287),(0.648,0.32),(0.684,0.338),(0.714,0.389),(0.744,0.43),(0.78,0.476),(0.798,0.507),(0.828,0.574),(0.852,0.633),(0.888,0.70),(0.924,0.777),(0.948,0.853),(0.972,0.94),(0.996,0.997)]
B_BT4 = [(0.264,0.003),(0.36,0.01),(0.48,0.025),(0.504,0.04),(0.528,0.1),(0.552,0.186),(0.576,0.253),(0.594,0.296),(0.612,0.296),(0.636,0.30),(0.684,0.389),(0.70,0.405),(0.732,0.42),(0.78,0.49),(0.816,0.557),(0.864,0.64),(0.912,0.74),(0.948,0.786),(0.966,0.86),(0.984,0.946),(0.996,1.0)]
B_NT = [(0.216,0.003),(0.288,0.017),(0.384,0.042),(0.456,0.068),(0.516,0.093),(0.576,0.135),(0.624,0.177),(0.684,0.236),(0.744,0.338),(0.792,0.439),(0.828,0.515),(0.864,0.608),(0.90,0.684),(0.936,0.76),(0.966,0.845),(0.996,0.98)]
B_NT4 = [(0.36,0.003),(0.456,0.025),(0.528,0.06),(0.588,0.071),(0.624,0.084),(0.684,0.118),(0.732,0.169),(0.768,0.236),(0.798,0.338),(0.816,0.389),(0.84,0.473),(0.864,0.524),(0.90,0.59),(0.936,0.60),(0.948,0.73),(0.966,0.777),(0.984,0.88),(0.996,0.946)]
B_MEDIANS = {'BT': 0.797, 'NT': 0.813}

D_BT = [(0.38,0.0),(0.575,0.008),(0.72,0.06),(0.86,0.11),(0.96,0.194),(1.05,0.296),(1.15,0.414),(1.25,0.43),(1.34,0.48),(1.41,0.566),(1.49,0.617),(1.63,0.65),(1.77,0.684),(1.96,0.75),(2.16,0.82),(2.4,0.887),(2.68,0.946),(2.92,0.98),(3.16,0.99)]
D_BT4 = [(0.81,0.06),(0.96,0.18),(1.1,0.33),(1.29,0.45),(1.44,0.52),(1.58,0.57),(1.77,0.59),(1.96,0.64),(2.3,0.65),(2.44,0.70),(2.64,0.78),(2.76,0.887),(2.83,0.904),(3.11,0.904),(3.16,0.94)]
D_NT = [(-1.2,0.0),(-0.43,0.0),(0.0,0.005),(0.24,0.029),(0.53,0.059),(0.72,0.11),(0.89,0.194),(1.05,0.28),(1.25,0.38),(1.44,0.48),(1.63,0.583),(1.84,0.684),(2.06,0.77),(2.3,0.845),(2.54,0.904),(2.78,0.938),(3.0,0.97),(3.16,0.99)]
D_NT4 = [(0.77,0.076),(1.0,0.21),(1.25,0.345),(1.49,0.448),(1.68,0.55),(1.87,0.617),(2.11,0.735),(2.35,0.836),(2.64,0.92),(2.87,0.946),(3.16,0.963)]
D_MEDIANS = {'BT': 1.35, 'NT': 1.48}

F_BT = [(-0.27,0.0),(-0.165,0.025),(-0.06,0.05),(0.01,0.084),(0.16,0.093),(0.27,0.118),(0.37,0.144),(0.52,0.21),(0.66,0.27),(0.80,0.32),(0.95,0.363),(1.16,0.405),(1.38,0.44),(1.59,0.498),(1.81,0.557),(2.03,0.608),(2.24,0.659),(2.46,0.726),(2.67,0.82),(2.96,0.878),(3.25,0.938),(3.53,0.963),(4.11,0.97),(5.19,0.976),(6.26,0.997)]
F_BT4 = [(-0.24,0.008),(-0.02,0.144),(0.23,0.144),(0.37,0.17),(0.52,0.287),(0.66,0.287),(0.8,0.33),(1.02,0.39),(1.16,0.524),(1.45,0.524),(1.56,0.59),(1.59,0.69),(1.74,0.765),(1.95,0.81),(2.31,0.81),(2.53,0.836),(2.89,0.845),(3.18,0.912),(3.39,0.988),(3.46,0.963),(4.18,0.96),(5.19,0.971),(6.26,0.988)]
F_NT = [(-0.27,0.0),(0.01,0.008),(0.23,0.025),(0.45,0.084),(0.66,0.186),(0.88,0.27),(1.09,0.355),(1.38,0.44),(1.67,0.532),(1.95,0.625),(2.24,0.743),(2.53,0.845),(2.82,0.912),(3.1,0.946),(3.53,0.97),(4.47,0.988),(6.26,0.997)]
F_NT4 = [(-0.24,0.003),(0.01,0.05),(0.3,0.135),(0.59,0.236),(0.88,0.39),(1.16,0.465),(1.45,0.54),(1.59,0.633),(1.88,0.642),(2.17,0.693),(2.46,0.77),(2.74,0.86),(3.03,0.912),(3.39,0.955),(4.11,0.955),(6.26,0.997)]
F_MEDIANS = {'BT': 1.57, 'NT': 1.49}

H_BT = [(0.0,0.0),(0.0,0.13),(0.02,0.25),(0.125,0.283),(0.305,0.334),(0.454,0.359),(0.573,0.371),(0.633,0.40),(0.723,0.469),(0.842,0.52),(0.962,0.57),(1.05,0.62),(1.14,0.705),(1.26,0.806),(1.41,0.882),(1.56,0.907),(1.71,0.958),(1.81,0.983),(1.86,0.995)]
H_BT4 = [(0.0,0.0),(0.02,0.25),(0.045,0.384),(0.275,0.384),(0.364,0.418),(0.484,0.486),(0.573,0.52),(0.663,0.553),(0.783,0.62),(0.902,0.671),(1.02,0.671),(1.14,0.755),(1.23,0.873),(1.26,0.958),(1.47,0.958),(1.68,0.995)]
H_NT = [(0.0,0.0),(0.0,0.098),(0.012,0.2),(0.05,0.24),(0.155,0.275),(0.305,0.334),(0.454,0.40),(0.573,0.46),(0.693,0.553),(0.812,0.646),(0.962,0.705),(1.08,0.772),(1.2,0.84),(1.32,0.89),(1.47,0.94),(1.65,0.975),(1.86,0.992),(2.54,1.0)]
H_NT4 = [(0.0,0.0),(0.02,0.266),(0.066,0.368),(0.215,0.418),(0.364,0.469),(0.514,0.536),(0.633,0.595),(0.738,0.705),(0.842,0.772),(0.962,0.84),(1.08,0.89),(1.23,0.958),(1.35,0.992),(1.42,1.0)]
H_MEDIANS = {'BT': 0.77, 'NT': 0.646}

STATS_R = ["r = 0.107, p = 0.0005", "r = 0.046, p = 0.1339", "r = 0.037, p = 0.31", "r = \u22120.055, p = 0.12"]
STATS_P = ["p = 0.246", "p = 0.072", "p = 0.392", "p = 0.081"]
SERIES_NAMES = ["BT", "BT Layer 4", "NT", "NT Layer 4"]

# ---------------- Figure ----------------
fig = go.Figure()

def ax_names(i):
    s = '' if i == 1 else str(i)
    return 'x' + s, 'y' + s, 'xaxis' + s, 'yaxis' + s

TICKFONT = dict(family=FONT, size=21, color=TXT)
common = dict(showline=True, linecolor=AXC, linewidth=1.6, ticks='outside', tickcolor=AXC,
              tickwidth=1.5, showgrid=False, zeroline=False, tickfont=TICKFONT, automargin=False)

SC_ROWS = [(43, 253), (398, 606), (750, 957), (1102, 1309)]
CDF_ROWS = [(48, 253), (398, 605), (750, 957), (1103, 1309)]

SC_YRANGES = [[-1, 0.0096], [-1.0, 3.47], [-0.97, 6.96], [0, 2.48]]
SC_YTYPES = ['log', 'linear', 'linear', 'linear']
SC_YTICKS = [([0.1, 1], ['0.1', '1']), ([-1, 0, 1, 2, 3], ['\u22121', '0', '1', '2', '3']),
             ([0, 3, 6], ['0', '3', '6']), ([0, 1, 2], ['0', '1', '2'])]
SC_DATA = [A_SPARSE + A_DENSE + A_CORE + A_EXTRA, C_SPARSE + C_DENSE + C_CORE + C_EXTRA,
           E_SPARSE + E_DENSE + E_CORE + E_EXTRA, G_SPARSE + G_DENSE + G_CORE + G_EXTRA]

CDF_XRANGES = [[-0.049, 1.049], [-1.197, 3.186], [-0.28, 6.29], [-0.116, 2.617]]
CDF_XTICKS = [([0, 0.25, 0.5, 0.75, 1], ['0', '0.25', '0.5', '0.75', '1']),
              ([-1, 0, 1, 2, 3], ['\u22121', '0', '1', '2', '3']),
              ([0, 2, 4, 6], ['0', '2', '4', '6']),
              ([0, 0.5, 1, 1.5, 2, 2.5], ['0', '0.5', '1', '1.5', '2', '2.5'])]
CDF_YTOPS = [1.04, 1.05, 1.045, 1.046]
CDF_DATA = [(B_BT, B_BT4, B_NT, B_NT4, B_MEDIANS), (D_BT, D_BT4, D_NT, D_NT4, D_MEDIANS),
            (F_BT, F_BT4, F_NT, F_NT4, F_MEDIANS), (H_BT, H_BT4, H_NT, H_NT4, H_MEDIANS)]

minor_log_x = [0.3, 0.4, 0.5, 0.6, 0.7, 0.8, 0.9, 2, 3, 4, 5, 6, 7, 8, 9]
minor_log_y = [0.2, 0.3, 0.4, 0.5, 0.6, 0.7, 0.8, 0.9]

LINE_STYLES = {
    "BT": dict(color='#000', width=4.5),
    "NT": dict(color='#999', width=4.5),
    "BT Layer 4": dict(color='#000', width=2.2, dash='3px,3px'),
    "NT Layer 4": dict(color='#aaa', width=1.8, dash='3px,3px'),
}

layout = {}
for r in range(4):
    i = 2 * r + 1
    xn, yn, xk, yk = ax_names(i)
    pts = SC_DATA[r]
    fig.add_trace(go.Scatter(x=[p[0] for p in pts], y=[p[1] for p in pts], mode='markers',
                             xaxis=xn, yaxis=yn, cliponaxis=False, showlegend=False, hoverinfo='skip',
                             marker=dict(symbol='circle-open', size=7, color='#111', line=dict(width=1.4))))
    top, bot = SC_ROWS[r]
    layout[xk] = dict(common, type='log', domain=[px(88), px(403)], range=[-0.570, 1.077], anchor=yn,
                      tickvals=[1, 10], ticktext=['1', '10'], ticklen=9, ticklabelstandoff=5,
                      minor=dict(ticks='outside', ticklen=5, tickwidth=1.2, tickcolor=AXC,
                                 tickvals=minor_log_x, showgrid=False))
    ydict = dict(common, type=SC_YTYPES[r], domain=[py(bot), py(top)], range=SC_YRANGES[r],
                 anchor='free', position=px(97), tickvals=SC_YTICKS[r][0], ticktext=SC_YTICKS[r][1],
                 ticklen=9, ticklabelstandoff=4)
    if r == 0:
        ydict['minor'] = dict(ticks='outside', ticklen=5, tickwidth=1.2, tickcolor=AXC,
                              tickvals=minor_log_y, showgrid=False)
    layout[yk] = ydict

    i = 2 * r + 2
    xn, yn, xk, yk = ax_names(i)
    bt, bt4, nt, nt4, med = CDF_DATA[r]
    for data, name in ((bt, "BT"), (nt, "NT"), (bt4, "BT Layer 4"), (nt4, "NT Layer 4")):
        fig.add_trace(go.Scatter(x=[p[0] for p in data], y=[p[1] for p in data], mode='lines',
                                 name=name, line=LINE_STYLES[name], xaxis=xn, yaxis=yn,
                                 cliponaxis=False, showlegend=False, hoverinfo='skip'))
    for key, col in (('NT', '#888'), ('BT', '#000')):
        fig.add_trace(go.Scatter(x=[med[key], med[key]], y=[0, 1], mode='lines',
                                 line=dict(color=col, width=2), xaxis=xn, yaxis=yn,
                                 showlegend=False, hoverinfo='skip', cliponaxis=False))
    top, bot = CDF_ROWS[r]
    layout[xk] = dict(common, domain=[px(523), 1.0], range=CDF_XRANGES[r], anchor=yn,
                      tickvals=CDF_XTICKS[r][0], ticktext=CDF_XTICKS[r][1], ticklen=8,
                      ticklabelstandoff=5, ticklabeloverflow='allow')
    layout[yk] = dict(common, domain=[py(bot), py(top)], range=[0, CDF_YTOPS[r]], anchor=xn,
                      tickvals=[0, 0.25, 0.5, 0.75, 1], ticktext=['0', '0.25', '0.5', '0.75', '1'],
                      ticklen=8, ticklabelstandoff=4)

fig.update_layout(**layout)

ann = []
def add_text(text, x, y, size, xanchor='center', angle=0):
    ann.append(dict(text=text, x=px(x), y=py(y), xref='paper', yref='paper', showarrow=False,
                    xanchor=xanchor, yanchor='middle', textangle=angle,
                    font=dict(family=FONT, size=size, color=TXT)))

letters = ['A', 'B', 'C', 'D', 'E', 'F', 'G', 'H']
letter_y = [24, 26, 376, 375, 728, 727, 1081, 1081]
letter_x = [108, 534, 107, 535, 108, 532, 109, 535]
for L, lx, ly in zip(letters, letter_x, letter_y):
    add_text(L, lx, ly, 28)

stat_y = [25, 377, 729, 1081]
for t, sy in zip(STATS_R, stat_y):
    add_text(t, 249, sy, 16)
pvals = [(538, 228, 'left'), (821, 587, 'right'), (820, 938, 'right'), (820, 1290, 'right')]
for t, (x, y, a) in zip(STATS_P, pvals):
    add_text(t, x, y, 16, xanchor=a)

xtitles = [("Spectral Tuning (Q)", 250, 313), ("Nonlinearity ASI", 677, 314),
           ("Spectral Tuning (Q)", 250, 666), ("Skewness", 677, 666),
           ("Spectral Tuning (Q)", 250, 1017), ("Threshold, \u03b8 (SD)", 677, 1017),
           ("Spectral Tuning (Q)", 250, 1371), ("Transition, \u03c3 (SD)", 676, 1374)]
for t, x, y in xtitles:
    add_text(t, x, y, 24)
ytitles = [("Nonlinearity ASI", 28, 150), ("Proportion", 442, 149),
           ("Skewness", 30, 503), ("Proportion", 442, 502),
           ("Threshold, \u03b8 (SD)", 41, 855), ("Proportion", 442, 859),
           ("Transition, \u03c3 (SD)", 42, 1203), ("Proportion", 442, 1209)]
for t, x, y in ytitles:
    add_text(t, x, y, 24, angle=-90)

# legend of panel B (line samples + labels)
shapes = []
leg_y = [90, 118, 147, 175]
for name, ly in zip(SERIES_NAMES, leg_y):
    st = dict(LINE_STYLES[name])
    if name in ("BT", "NT"):
        st['width'] = 5
    shapes.append(dict(type='line', xref='paper', yref='paper', x0=px(538), x1=px(565),
                       y0=py(ly), y1=py(ly), line=st))
    add_text(name, 575, ly, 21, xanchor='left')

fig.update_layout(
    width=W, height=H, margin=dict(l=0, r=0, t=0, b=0, autoexpand=False),
    paper_bgcolor='white', plot_bgcolor='white',
    annotations=ann, shapes=shapes, showlegend=False,
)

fig.write_html("out.html", post_script="document.body.style.margin='0';")
